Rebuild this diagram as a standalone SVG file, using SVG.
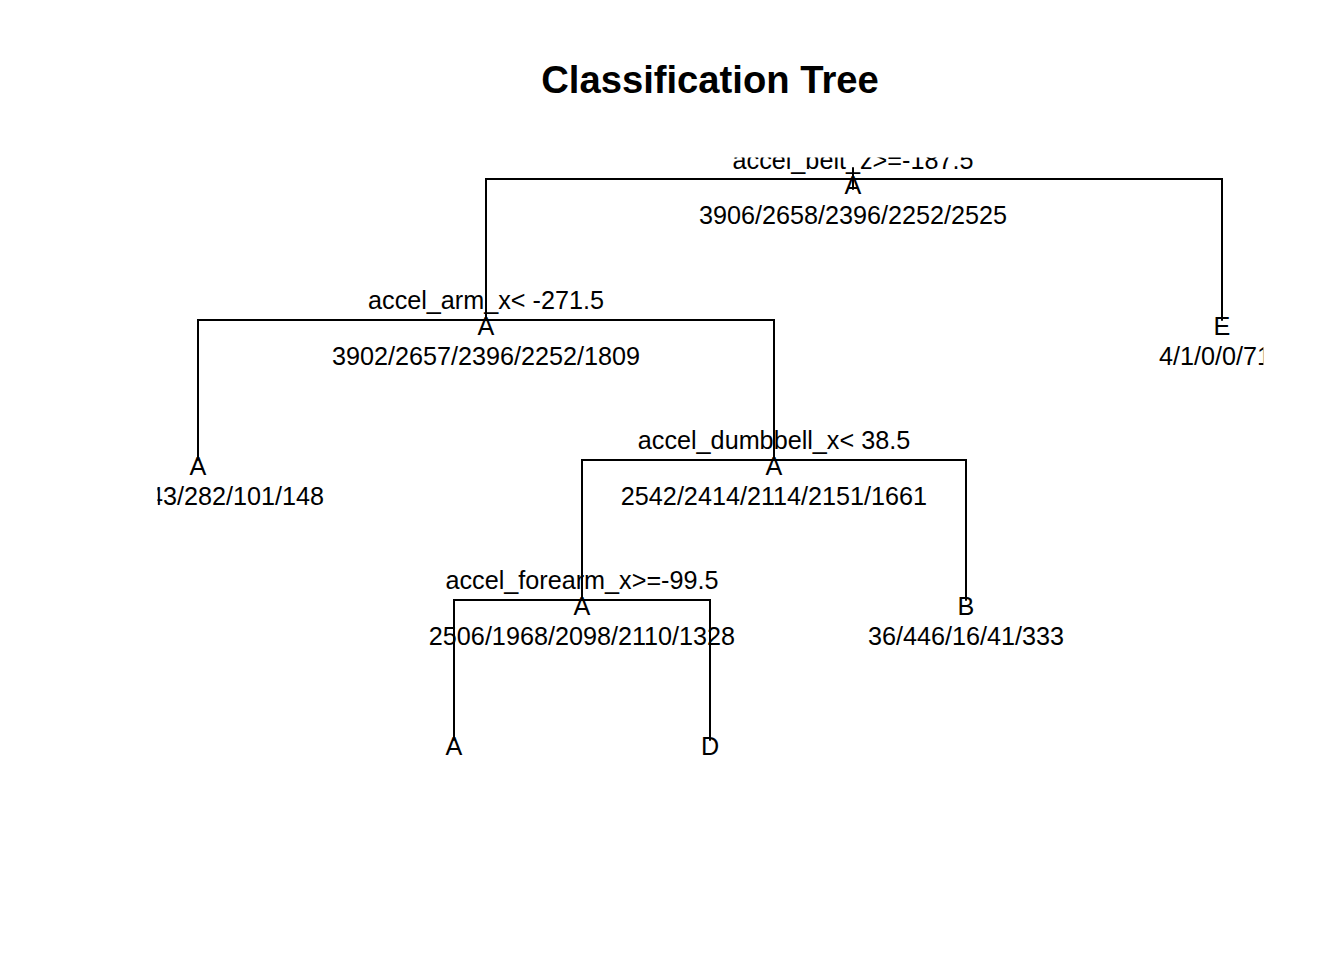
<svg xmlns="http://www.w3.org/2000/svg" width="1344" height="960" viewBox="0 0 1344 960">
<style>
.t{font-family:"Liberation Sans",Arial,sans-serif;font-size:25.2px;fill:#000;text-anchor:middle}
.title{font-family:"Liberation Sans",Arial,sans-serif;font-size:38.2px;font-weight:bold;fill:#000;text-anchor:middle}
.c{stroke:#000;stroke-width:2;fill:none;stroke-linecap:round}
</style>
<defs>
<clipPath id="plot"><rect x="157.4" y="157.4" width="1106" height="606.8"/></clipPath>
</defs>
<rect width="1344" height="960" fill="#fff"/>
<text class="title" x="710" y="93">Classification Tree</text>
<g clip-path="url(#plot)">
<g id="connectors">
<path class="c" d="M853 168V189"/>
<path class="c" d="M486 320V179H1222V320"/>
<path class="c" d="M198 460V320H774V460"/>
<path class="c" d="M582 600V460H966V600"/>
<path class="c" d="M454 740V600H710V740"/>
</g>
<g id="n1">
<text class="t" x="853" y="168.5">accel_belt_z&gt;=-187.5</text>
<text class="t" x="853" y="194">A</text>
<text class="t" x="853" y="224">3906/2658/2396/2252/2525</text>
</g>
<g id="n2">
<text class="t" x="486" y="309">accel_arm_x&lt; -271.5</text>
<text class="t" x="486" y="335">A</text>
<text class="t" x="486" y="365">3902/2657/2396/2252/1809</text>
</g>
<g id="n3">
<text class="t" x="1222" y="335">E</text>
<text class="t" x="1222" y="365">4/1/0/0/716</text>
</g>
<g id="n4">
<text class="t" x="198" y="475">A</text>
<text class="t" x="198" y="505">1360/243/282/101/148</text>
</g>
<g id="n5">
<text class="t" x="774" y="449">accel_dumbbell_x&lt; 38.5</text>
<text class="t" x="774" y="475">A</text>
<text class="t" x="774" y="505">2542/2414/2114/2151/1661</text>
</g>
<g id="n6">
<text class="t" x="582" y="589">accel_forearm_x&gt;=-99.5</text>
<text class="t" x="582" y="615">A</text>
<text class="t" x="582" y="645">2506/1968/2098/2110/1328</text>
</g>
<g id="n7">
<text class="t" x="966" y="615">B</text>
<text class="t" x="966" y="645">36/446/16/41/333</text>
</g>
<g id="n8">
<text class="t" x="454" y="755">A</text>
</g>
<g id="n9">
<text class="t" x="710" y="755">D</text>
</g>
</g>
</svg>
